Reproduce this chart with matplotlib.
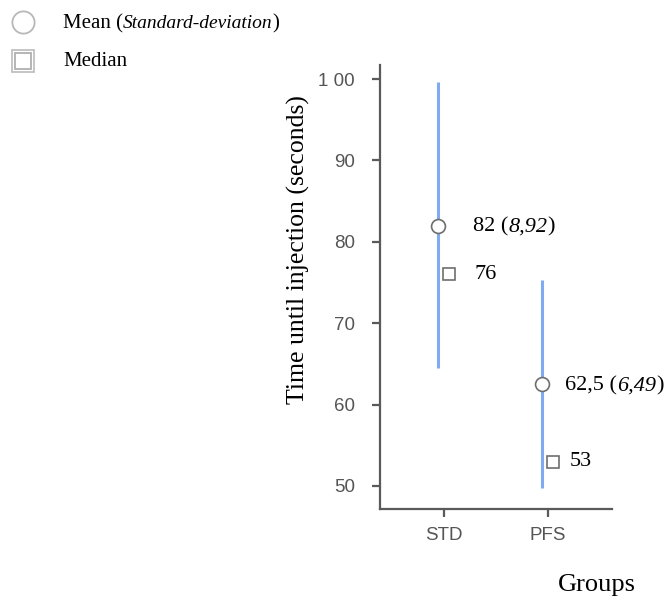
import matplotlib.pyplot as plt
from matplotlib.lines import Line2D

groups = ['STD', 'PFS']
means = [82, 62.5]
sds = ['8,92', '6,49']
mean_labels = ['82', '62,5']
medians = [76, 53]
low = [64.5, 49.8]
high = [99.6, 75.3]
yticks = [50, 60, 70, 80, 90, 100]

blue = '#80aaf2'
grey = '#6e6e6e'
serif = 'Liberation Serif'

fig = plt.figure(figsize=(6.66, 5.98), dpi=100)
ax = fig.add_axes([0.5706, 0.1488, 0.3483, 0.7425])
renderer = fig.canvas.get_renderer()


def mixed_text(x, y, parts, trans):
    # parts: list of (string, style, size) drawn one after another
    t = None
    for s, style, size in parts:
        if t is None:
            t = fig.text(x, y, s, family=serif, style=style, fontsize=size,
                         va='baseline', transform=trans)
        else:
            ext = t.get_window_extent(renderer)
            base = t.get_transform().transform(t.get_position())[1]
            t = fig.text(ext.x1, base, s, family=serif, style=style, fontsize=size,
                         va='baseline', transform=None)
    return t


x = list(range(len(groups)))
xm = [i - 0.055 for i in x]
xmed = [i + 0.05 for i in x]

ax.vlines(xm, low, high, color=blue, lw=2.2, zorder=1)
ax.plot(xm, means, 'o', ms=10, mfc='white', mec=grey, mew=1.2, ls='none', zorder=3)
ax.plot(xmed, medians, 's', ms=8, mfc='white', mec=grey, mew=1.2, ls='none', zorder=3)

ax.set_xlim(-0.615, 1.615)
ax.set_ylim(47.17, 101.72)
ax.set_xticks(x)
ax.set_xticklabels(groups)
ax.set_yticks(yticks)
ax.set_yticklabels(['1 00' if t == 100 else str(t) for t in yticks])
for s in ['top', 'right']:
    ax.spines[s].set_visible(False)
for s in ['left', 'bottom']:
    ax.spines[s].set_color('#5a5a5a')
    ax.spines[s].set_linewidth(1.6)
ax.tick_params(colors='#5a5a5a', length=6, width=1.6, labelsize=13.5)
ax.tick_params(axis='y', pad=12)
ax.tick_params(axis='x', pad=7)
for lab in ax.get_xticklabels() + ax.get_yticklabels():
    lab.set_family('Liberation Sans')
    lab.set_color('#555555')

ax.set_ylabel('Time until injection (seconds)', family=serif, fontsize=18.5)
ax.yaxis.set_label_coords(-0.302, 0.585)

# labels next to the markers (baseline a little below the marker centre)
label_x = [0.279, 1.163]
med_x = [0.298, 1.212]
for i in range(len(groups)):
    mixed_text(label_x[i], means[i] - 0.75,
               [(mean_labels[i] + ' (', 'normal', 16), (sds[i], 'italic', 16),
                (')', 'normal', 16)],
               ax.transData)
    fig.text(med_x[i], medians[i], str(medians[i]), family=serif, fontsize=16,
             va='center', transform=ax.transData)

fig.text(597 / 666, 1 - 585 / 598, 'Groups', family=serif, fontsize=19,
         ha='center', va='center')

# legend in the top-left corner
fig.add_artist(Line2D([23 / 666], [1 - 22 / 598], marker='o', ms=16, mfc='white',
                      mec='#b8b8b8', mew=1.3, transform=fig.transFigure))
fig.add_artist(Line2D([23 / 666], [1 - 61 / 598], marker='s', ms=16, mfc='white',
                      mec='#c0c0c0', mew=1.3, transform=fig.transFigure))
fig.add_artist(Line2D([23 / 666], [1 - 61 / 598], marker='s', ms=12, mfc='white',
                      mec='#b0b0b0', mew=1.3, transform=fig.transFigure))
mixed_text(63 / 666, 1 - 28 / 598,
           [('Mean (', 'normal', 15), ('Standard-deviation', 'italic', 14),
            (')', 'normal', 15)],
           fig.transFigure)
fig.text(63 / 666, 1 - 61 / 598, 'Median', family=serif, fontsize=15, va='center')

fig.savefig('out.png', dpi=100)
